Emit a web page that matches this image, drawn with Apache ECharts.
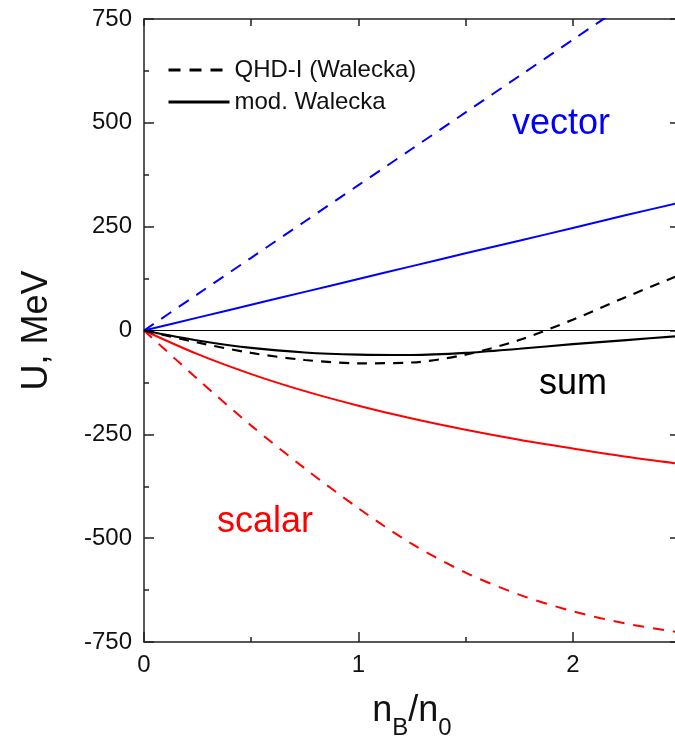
<!DOCTYPE html>
<html>
<head>
<meta charset="utf-8">
<script src="https://cdn.jsdelivr.net/npm/echarts@6/dist/echarts.min.js"></script>
<style>
  html, body { margin: 0; padding: 0; background: #fff; }
  #chart { width: 675px; height: 740px; }
</style>
</head>
<body>
<div id="chart"></div>
<script>
// Baryon density in units of saturation density n0
const density = [0, 0.25, 0.5, 0.75, 1.0, 1.25, 1.5, 1.75, 2.0, 2.25, 2.5];

// Nucleon potentials, MeV
const vectorQHD = [0, 87.5, 175, 262.5, 350, 437.5, 525, 612.5, 700, 787.5, 875];
const vectorMod = [0, 31, 62, 93, 124, 155, 186, 216, 247, 278, 308];
const scalarQHD = [0, -117, -229, -332, -428, -514, -583, -636, -676, -706, -727];
const scalarMod = [0, -57, -105, -146, -181, -212, -239, -263, -284, -304, -321];
const sumQHD    = [0, -29, -54, -71, -79, -77, -58, -23, 26, 81, 134];
const sumMod    = [0, -24, -42, -53, -58, -59, -54, -44, -33, -23, -13];

// Axis ticks
const xTickLabels = [0, 1, 2];
const yTickLabels = [-750, -500, -250, 0, 250, 500, 750];

const FONT = '"Liberation Sans", Arial, Helvetica, sans-serif';
const BLUE = '#0000ff';
const RED = '#ff0000';
const INK = '#111';

const pairs = ys => density.map((x, i) => [x, ys[i]]);
const frame = { color: '#222', width: 1.5 };

const chart = echarts.init(document.getElementById('chart'), null, { renderer: 'canvas' });

const curve = (name, ys, color, type, width) => ({
  name, type: 'line', xAxisIndex: 0, yAxisIndex: 0,
  data: pairs(ys), smooth: 0.3, symbol: 'none', clip: true,
  lineStyle: { color, type, width }, itemStyle: { color },
  silent: true, z: 3
});

const option = {
  animation: false,
  backgroundColor: '#fff',
  grid: { left: 144, top: 19, width: 536, height: 623, outerBoundsMode: 'none', containLabel: false },
  legend: {
    left: 167, top: 58, padding: 0, orient: 'vertical',
    itemWidth: 61, itemHeight: 3, itemGap: 8,
    selectedMode: false,
    data: ['QHD-I (Walecka)', 'mod. Walecka'],
    itemStyle: { opacity: 0 },
    lineStyle: { width: 3 },
    textStyle: { fontSize: 24, lineHeight: 24, fontFamily: FONT, color: INK }
  },
  xAxis: [
    {
      type: 'value', min: 0, max: 2.5, interval: 1, position: 'bottom',
      axisLine: { show: true, onZero: false, lineStyle: frame },
      axisTick: { show: true, inside: true, length: 10, lineStyle: frame },
      axisLabel: {
        show: true, margin: 11, fontSize: 24, fontFamily: FONT, color: INK,
        showMaxLabel: false,
        formatter: v => (xTickLabels.includes(v) ? String(v) : '')
      },
      splitLine: { show: false },
      name: '{n|n}{s|B}{n|/n}{s|0}',
      nameLocation: 'middle', nameGap: 51,
      nameTextStyle: {
        fontFamily: FONT, color: INK,
        rich: {
          n: { fontSize: 36, lineHeight: 36, verticalAlign: 'top', fontFamily: FONT, color: INK },
          s: { fontSize: 24, lineHeight: 47, verticalAlign: 'bottom', fontFamily: FONT, color: INK }
        }
      }
    },
    {
      type: 'value', min: 0, max: 2.5, interval: 0.5, position: 'bottom',
      axisLine: { show: false, onZero: false },
      axisTick: { show: true, inside: true, length: 5, lineStyle: frame },
      axisLabel: { show: false },
      splitLine: { show: false }
    },
    {
      type: 'value', min: 0, max: 2.5, interval: 0.5, position: 'top',
      axisLine: { show: true, onZero: false, lineStyle: frame },
      axisTick: { show: true, inside: true, length: 7, lineStyle: frame },
      axisLabel: { show: false },
      splitLine: { show: false }
    }
  ],
  yAxis: [
    {
      type: 'value', min: -750, max: 750, interval: 250, position: 'left',
      axisLine: { show: true, onZero: false, lineStyle: frame },
      axisTick: { show: true, inside: true, length: 10, lineStyle: frame },
      minorTick: { show: true, splitNumber: 2, length: 5, lineStyle: frame },
      axisLabel: {
        show: true, margin: 12, fontSize: 24, fontFamily: FONT, color: INK,
        formatter: v => (yTickLabels.includes(v) ? String(v) : '')
      },
      splitLine: { show: false },
      minorSplitLine: { show: false },
      name: 'U, MeV', nameLocation: 'middle', nameGap: 89,
      nameTextStyle: { fontSize: 36, fontFamily: FONT, color: INK }
    },
    {
      type: 'value', min: -750, max: 750, interval: 250, position: 'right',
      axisLine: { show: true, onZero: false, lineStyle: frame },
      axisTick: { show: true, inside: true, length: 10, lineStyle: frame },
      minorTick: { show: true, splitNumber: 2, length: 5, lineStyle: frame },
      axisLabel: { show: false },
      splitLine: { show: false },
      minorSplitLine: { show: false }
    }
  ],
  series: [
    // legend keys: line style only
    { name: 'QHD-I (Walecka)', type: 'line', data: [], symbol: 'none',
      lineStyle: { color: '#000', type: [12, 9], width: 3 }, itemStyle: { color: '#000' } },
    { name: 'mod. Walecka', type: 'line', data: [], symbol: 'none',
      lineStyle: { color: '#000', type: 'solid', width: 3 }, itemStyle: { color: '#000' } },

    curve('vector QHD-I', vectorQHD, BLUE, [12, 9], 2),
    curve('vector mod', vectorMod, BLUE, 'solid', 2),
    curve('scalar QHD-I', scalarQHD, RED, [11, 9], 2),
    curve('scalar mod', scalarMod, RED, 'solid', 2),
    curve('sum QHD-I', sumQHD, '#000', [10, 8], 2.2),
    Object.assign(curve('sum mod', sumMod, '#000', 'solid', 2.2), {
      markLine: {
        silent: true, symbol: 'none', animation: false,
        label: { show: false },
        lineStyle: { color: '#000', width: 1, type: 'solid' },
        data: [{ yAxis: 0 }]
      }
    })
  ],
  graphic: [
    { type: 'text', left: 512, top: 106, silent: true,
      style: { text: 'vector', font: '36px ' + FONT, fill: BLUE } },
    { type: 'text', left: 217, top: 504, silent: true,
      style: { text: 'scalar', font: '36px ' + FONT, fill: RED } },
    { type: 'text', left: 539, top: 366, silent: true,
      style: { text: 'sum', font: '36px ' + FONT, fill: '#000' } }
  ]
};

chart.setOption(option);
</script>
</body>
</html>
